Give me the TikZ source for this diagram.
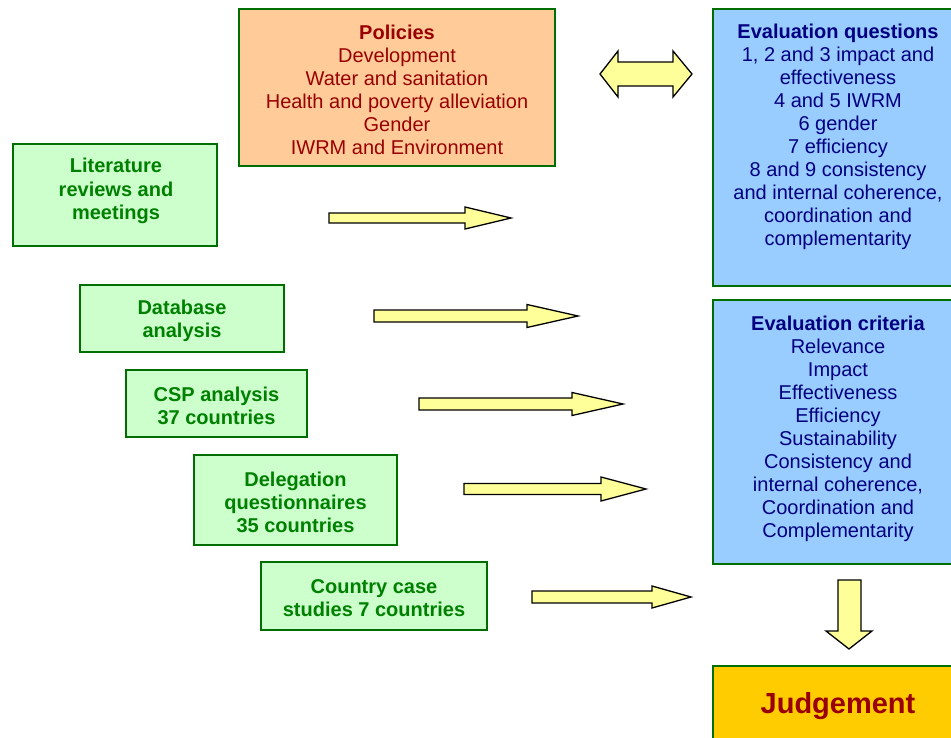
\documentclass[tikz,border=0pt]{standalone}
\usepackage{fontspec}
\setmainfont{Liberation Sans}
\definecolor{orangefill}{HTML}{FFCC99}
\definecolor{bluefill}{HTML}{99CCFF}
\definecolor{greenfill}{HTML}{CCFFCC}
\definecolor{yellowfill}{HTML}{FFFF99}
\definecolor{judgefill}{HTML}{FFCC00}
\definecolor{bordergreen}{HTML}{006E00}
\definecolor{greentext}{HTML}{008000}
\definecolor{redtext}{HTML}{990000}
\definecolor{bluetext}{HTML}{000080}
\newcommand\rblk[6]{\draw[blockarrow] (#1,#4-#5) -- (#2,#4-#5) -- (#2,#4-#6) -- (#3,#4) -- (#2,#4+#6) -- (#2,#4+#5) -- (#1,#4+#5) -- cycle;}
\newcommand\toppad{\rule{0pt}{18.5pt}}
\begin{document}
\begin{tikzpicture}[x=1pt,y=-1pt,
  box/.style={rectangle, draw=bordergreen, line width=1.5pt, inner sep=0pt, align=center},
  txt/.style={font=\fontsize{20}{23}\selectfont},
  boxtext/.style={inner sep=0pt, align=center, font=\fontsize{20}{23}\selectfont},
  greenbox/.style={box, fill=greenfill, text=greentext, font=\fontsize{20}{23}\selectfont\bfseries},
  bluebox/.style={box, fill=bluefill},
  blockarrow/.style={draw=black, line width=1.3pt, fill=yellowfill, line join=miter}]
\useasboundingbox (0,0) rectangle (951,738);
\clip (0,0) rectangle (951,738);
% top policies box
\node[box, fill=orangefill, text=redtext, txt, minimum width=316, minimum height=157] (pol) at (397,87.5)
  {\toppad\textbf{Policies}\\Development\\Water and sanitation\\Health and poverty alleviation\\Gender\\IWRM and Environment};
% evaluation questions
\node[bluebox, minimum width=250, minimum height=277] (eq) at (838,147.5) {};
\node[boxtext, text=bluetext] (eqt) at (838,136.5)
  {\textbf{Evaluation questions}\\1, 2 and 3 impact and\\effectiveness\\4 and 5 IWRM\\6 gender\\7 efficiency\\8 and 9 consistency\\and internal coherence,\\coordination and\\complementarity};
% evaluation criteria
\node[bluebox, minimum width=250, minimum height=264] (ec) at (838,432) {};
\node[boxtext, text=bluetext] (ect) at (838,429)
  {\textbf{Evaluation criteria}\\Relevance\\Impact\\Effectiveness\\Efficiency\\Sustainability\\Consistency and\\internal coherence,\\Coordination and\\Complementarity};
% judgement
\node[box, fill=judgefill, text=redtext, font=\fontsize{29}{34}\selectfont\bfseries, minimum width=250, minimum height=74] (jd) at (838,703) {\rule{0pt}{27pt}Judgement};
% green boxes
\node[greenbox, minimum width=204, minimum height=102] (lit) at (115,195) {};
\node[boxtext, text=greentext, font=\fontsize{20}{23.5}\selectfont\bfseries] (litt) at (116,191) {Literature\\reviews and\\meetings};
\node[greenbox, minimum width=204, minimum height=67] (db) at (182,318.5) {\toppad Database\\analysis};
\node[greenbox, minimum width=181, minimum height=67] (csp) at (216.5,403.5) {\toppad CSP analysis\\37 countries};
\node[greenbox, minimum width=203, minimum height=90] (del) at (295.5,500) {\toppad Delegation\\questionnaires\\35 countries};
\node[greenbox, minimum width=226, minimum height=68] (cty) at (374,596) {\toppad Country case\\studies 7 countries};
% block arrows
\rblk{329}{465}{511}{218}{5}{11}
\rblk{374}{527}{578}{316}{6}{11.5}
\rblk{419}{572}{623}{404}{6}{11.5}
\rblk{464}{601}{646}{489}{5.5}{12}
\rblk{532}{652}{691}{597}{6}{11}
% double arrow
\draw[blockarrow] (600,74) -- (618,51) -- (618,62) -- (673,62) -- (673,51) -- (692,74) -- (673,97) -- (673,86) -- (618,86) -- (618,97) -- cycle;
% down arrow
\draw[blockarrow] (838,580) -- (861,580) -- (861,631) -- (872,631) -- (849,649) -- (826,631) -- (838,631) -- cycle;
\end{tikzpicture}
\end{document}
